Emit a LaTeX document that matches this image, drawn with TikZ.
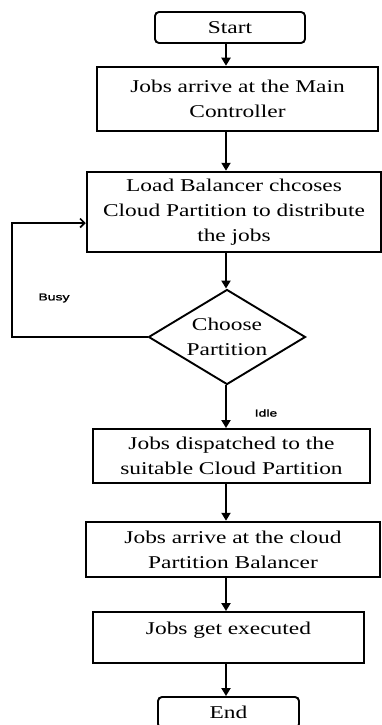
\documentclass[tikz,border=0pt]{standalone}
\usepackage{fontspec}
\setmainfont{Liberation Serif}[FakeStretch=1.3]
\newfontfamily\lblfont{Liberation Sans}[FakeStretch=1.4,FakeBold=1.5]
\usetikzlibrary{arrows.meta,shapes.geometric}
\begin{document}
\begin{tikzpicture}[x=1pt,y=-1pt,
        box/.style={draw,line width=1.9pt,align=center,inner sep=2pt,
            font=\fontsize{18}{25}\selectfont},
        heavy/.style={box,line width=2.5pt},
        term/.style={box,rounded corners=4pt},
        decide/.style={draw,line width=1.9pt,diamond,aspect=1.65,inner sep=0pt,
            minimum width=157pt,minimum height=95pt,align=center,
            font=\fontsize{18}{25}\selectfont},
        flow/.style={line width=2.8pt,-{Triangle[width=9pt,length=8pt]}},
        back/.style={line width=1.7pt,-{Straight Barb[width=9pt,length=4.5pt]}},
        lbl/.style={font=\lblfont\fontsize{10}{11}\selectfont}]
    \useasboundingbox (0,0) rectangle (381,725);
    \coordinate (ax) at (226,0);

    \node[term,minimum width=150pt,minimum height=31pt] (start) at (230,27.5) {Start};
    \node[heavy,minimum width=281pt,minimum height=64pt] (arrive) at (237.5,99)
        {Jobs arrive at the Main\\Controller};
    \node[heavy,minimum width=294pt,minimum height=80pt] (lb) at (234,212)
        {Load Balancer chcoses\\Cloud Partition to distribute\\the jobs};
    \node[decide] (choose) at (227,337) {Choose\\Partition};
    \node[box,minimum width=277pt,minimum height=54pt] (dispatch) at (231.5,456)
        {Jobs dispatched to the\\suitable Cloud Partition};
    \node[heavy,minimum width=294pt,minimum height=55pt] (cloudlb) at (233,549.5)
        {Jobs arrive at the cloud\\Partition Balancer};
    \node[box,minimum width=271pt,minimum height=51pt,text depth=18pt] (exec) at (228.5,637.5)
        {Jobs get executed};
    \node[term,minimum width=141pt,minimum height=31pt] (end) at (228.5,712.5) {End};

    \node[lbl] (busy) at (54,298) {Busy};
    \node[lbl] (idle) at (266,413) {Idle};

    \draw[flow] (start.south -| ax) -- (arrive.north -| ax);
    \draw[flow] (arrive.south -| ax) -- (lb.north -| ax);
    \draw[flow] (lb.south -| ax) -- (choose.north -| ax);
    \draw[flow] (choose.south -| ax) -- (dispatch.north -| ax);
    \draw[flow] (dispatch.south -| ax) -- (cloudlb.north -| ax);
    \draw[flow] (cloudlb.south -| ax) -- (exec.north -| ax);
    \draw[flow] (exec.south -| ax) -- (end.north -| ax);

    % busy loop back to the load balancer
    \coordinate (turn) at (12,223);
    \draw[back] (choose.west) -| (turn) -- (turn -| lb.west);
\end{tikzpicture}
\end{document}
